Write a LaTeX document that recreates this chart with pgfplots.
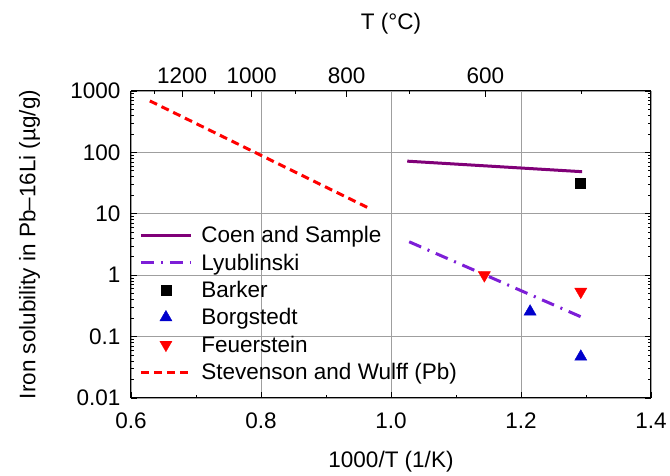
\documentclass[border=0pt]{standalone}
\usepackage{fontspec}
\setmainfont{Liberation Sans}
\usepackage{pgfplots}
\pgfplotsset{compat=1.18}
\definecolor{coen}{RGB}{128,0,120}
\definecolor{lyub}{RGB}{125,30,215}
\definecolor{bblue}{RGB}{0,0,204}
\newcommand{\fs}{\fontsize{22.5}{27}\selectfont}
\begin{document}
\begin{tikzpicture}
\begin{axis}[
  name=main,
  scale only axis,
  width=520pt, height=307pt,
  xmin=0.6, xmax=1.4,
  ymode=log, ymin=0.01, ymax=1000,
  axis x line*=bottom,
  axis y line*=box,
  xtick={0.6,0.8,1.0,1.2,1.4},
  xticklabels={0.6,0.8,1.0,1.2,1.4},
  minor x tick num=1,
  ytick={0.01,0.1,1,10,100,1000},
  yticklabels={0.01,0.1,1,10,100,1000},
  tick align=inside,
  major tick length=6pt, minor tick length=3pt,
  every tick/.style={black, line width=0.8pt},
  axis line style={line width=1pt},
  grid=major,
  major grid style={gray!75, line width=0.7pt},
  tick label style={font=\fs},
  xticklabel style={yshift=-11pt},
  yticklabel style={xshift=-7pt},
  label style={font=\fs},
  xlabel={1000/T (1/K)},
  xlabel style={yshift=-16pt},
  ylabel={Iron solubility in Pb–16Li (µg/g)},
  ylabel style={at={(axis description cs:-0.168,0.5)}, anchor=south},
  legend style={draw=none, fill=none, font=\fs, at={(0.012,0.572)}, anchor=north west, row sep=5.5pt, column sep=7pt, inner sep=2pt},
  legend cell align=left,
  legend image code/.code={\draw[mark repeat=2,mark phase=2,#1] plot coordinates {(0pt,0pt) (25pt,0pt) (50pt,0pt)};},
]
\addplot[coen, line width=3pt] coordinates {(1.025,72) (1.294,48.5)};
\addlegendentry{Coen and Sample}
\addplot[lyub, line width=3pt, dash pattern=on 13pt off 7pt on 2pt off 7pt] coordinates {(1.028,3.5) (1.294,0.206)};
\addlegendentry{Lyublinski}
\addplot[only marks, mark=square*, mark size=5pt, black] coordinates {(1.291,31)};
\addlegendentry{Barker}
\addplot[only marks, mark=triangle*, mark size=7pt, bblue, mark options={fill=bblue, draw=bblue}] coordinates {(1.214,0.255) (1.292,0.047)};
\addlegendentry{Borgstedt}
\addplot[only marks, mark=triangle*, mark size=7pt, red, mark options={rotate=180, fill=red, draw=red}] coordinates {(1.1436,1.0) (1.292,0.54)};
\addlegendentry{Feuerstein}
\addplot[red, line width=3pt, dash pattern=on 8pt off 5pt] coordinates {(0.629,690) (0.965,12.5)};
\addlegendentry{Stevenson and Wulff (Pb)}
\end{axis}
\begin{axis}[
  scale only axis,
  width=520pt, height=307pt,
  xmin=0.6, xmax=1.4,
  ymode=log, ymin=0.01, ymax=1000,
  axis x line*=top,
  axis y line=none,
  xtick={0.67882,0.78545,0.93184,1.14528},
  xticklabels={1200,1000,800,600},
  minor xtick={0.63567,0.72826,0.85241,1.02759,1.29341},
  tick align=inside,
  major tick length=6pt, minor tick length=3pt,
  every tick/.style={black, line width=0.8pt},
  axis line style={line width=1pt},
  tick label style={font=\fs},
  xticklabel style={yshift=4pt},
  label style={font=\fs},
  xlabel={T (°C)},
  xlabel style={yshift=27pt},
]
\end{axis}
\pgfresetboundingbox
\path (main.south west) ++(-131pt,-78pt) rectangle ++(670pt,476pt);
\end{tikzpicture}
\end{document}
